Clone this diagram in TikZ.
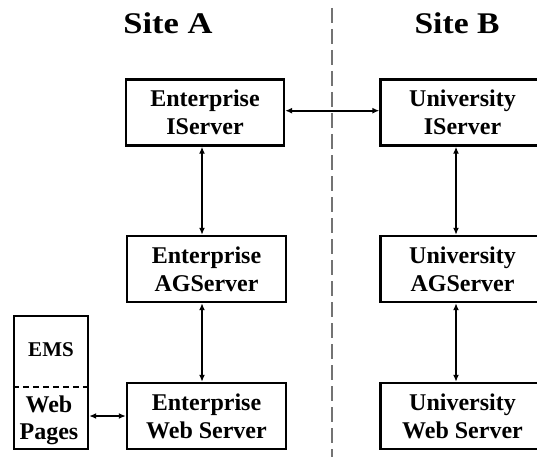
\documentclass[tikz,border=0pt]{standalone}
\usepackage{fontspec}
\setmainfont{Liberation Serif}
\usetikzlibrary{arrows.meta}
\tikzset{
  server/.style={draw, line width=2.4pt, minimum height=66pt, align=center, inner sep=2pt,
    font=\fontsize{24}{28}\selectfont\bfseries},
  link/.style={line width=1.8pt, {Latex[length=7pt,width=6pt]}-{Latex[length=7pt,width=6pt]}},
  title/.style={font=\fontsize{30}{30}\selectfont\bfseries},
  label/.style={align=center, inner sep=0pt, font=\fontsize{24}{27}\selectfont\bfseries},
  divider/.style={draw=black!55, line width=1.8pt, dash pattern=on 15pt off 6pt},
}
\begin{document}
\begin{tikzpicture}[x=1pt,y=1pt]
\useasboundingbox (0,0) rectangle (537,-457);
\clip (0,0) rectangle (537,-457);
% titles
\node[title] (sa) at (168,-23) {\scalebox{1.15}[1]{Site A}};
\node[title] (sb) at (457,-23) {\scalebox{1.12}[1]{Site B}};
% divider
\coordinate (dtop) at (332,-8);
\coordinate (dbot) at (332,-457);
\draw[divider] (dtop) -- (dbot);
% site A
\node[server, minimum width=158pt] (eis) at (205,-112.5) {Enterprise\\IServer};
\node[server, minimum width=159pt] (eag) at (206.5,-269) {Enterprise\\AGServer};
\node[server, minimum width=159pt] (ews) at (206.5,-416) {Enterprise\\Web Server};
% site B
\node[server, minimum width=164pt] (uis) at (462.5,-112.5) {University\\IServer};
\node[server, minimum width=164pt] (uag) at (462.5,-269) {University\\AGServer};
\node[server, minimum width=164pt] (uws) at (462.5,-416) {University\\Web Server};
% EMS box
\node[draw, line width=2.4pt, minimum width=74pt, minimum height=133pt, inner sep=0pt] (ems) at (51,-382.5) {};
\coordinate (emsy) at (0,-387);
\draw[line width=1.2pt, dash pattern=on 6pt off 4pt] (ems.west |- emsy) -- (ems.east |- emsy);
\node[label, font=\fontsize{21}{27}\selectfont\bfseries] (emst) at (51,-350) {EMS};
\node[label] (webp) at (49,-420) {Web\\Pages};
% connectors
\coordinate (hy) at (0,-110.7);
\coordinate (ax) at (202,0);
\coordinate (bx) at (456,0);
\draw[link] (eis.east |- hy) -- (uis.west |- hy);
\draw[link] (eis.south -| ax) -- (eag.north -| ax);
\draw[link] (eag.south -| ax) -- (ews.north -| ax);
\draw[link] (uis.south -| bx) -- (uag.north -| bx);
\draw[link] (uag.south -| bx) -- (uws.north -| bx);
\draw[link] (ems.east |- ews.west) -- (ews.west);
\end{tikzpicture}
\end{document}
